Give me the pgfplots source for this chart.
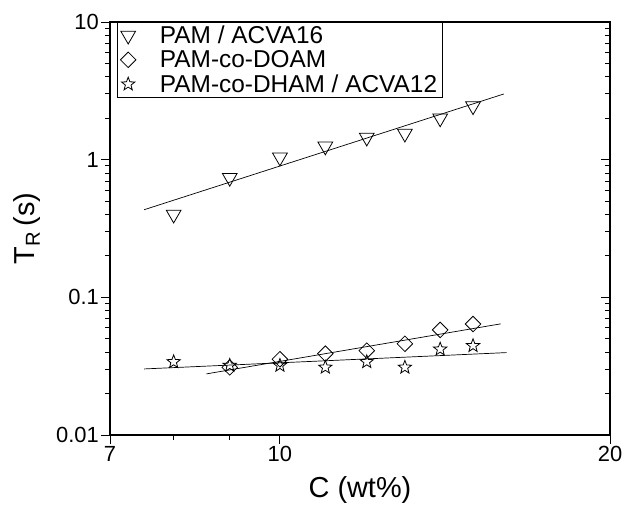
\documentclass[border=0pt]{standalone}
\usepackage{fontspec}
\setmainfont{Liberation Sans}
\usepackage{pgfplots}
\pgfplotsset{compat=1.18}
\usetikzlibrary{plotmarks}

% open five-pointed star
\pgfdeclareplotmark{ostar}{%
  \pgfpathmoveto{\pgfpointpolar{90}{\pgfplotmarksize}}%
  \pgfpathlineto{\pgfpointpolar{126}{0.42\pgfplotmarksize}}%
  \pgfpathlineto{\pgfpointpolar{162}{\pgfplotmarksize}}%
  \pgfpathlineto{\pgfpointpolar{198}{0.42\pgfplotmarksize}}%
  \pgfpathlineto{\pgfpointpolar{234}{\pgfplotmarksize}}%
  \pgfpathlineto{\pgfpointpolar{270}{0.42\pgfplotmarksize}}%
  \pgfpathlineto{\pgfpointpolar{306}{\pgfplotmarksize}}%
  \pgfpathlineto{\pgfpointpolar{342}{0.42\pgfplotmarksize}}%
  \pgfpathlineto{\pgfpointpolar{18}{\pgfplotmarksize}}%
  \pgfpathlineto{\pgfpointpolar{54}{0.42\pgfplotmarksize}}%
  \pgfpathclose\pgfusepathqstroke}

\begin{document}
\begin{tikzpicture}
\begin{axis}[
  name=ax,
  xmode=log, ymode=log, scale only axis,
  width=500bp, height=413bp,
  xmin=7, xmax=20, ymin=0.01, ymax=10,
  axis line style={line width=1.2bp},
  major tick length=9bp, minor tick length=5bp,
  every tick/.style={black, line width=1bp},
  minor ytick={0.02,0.03,0.04,0.05,0.06,0.07,0.08,0.09,
               0.2,0.3,0.4,0.5,0.6,0.7,0.8,0.9,
               2,3,4,5,6,7,8,9},
  xtick={7,10,20}, xticklabels={7,10,20}, minor xtick={8,9},
  ytick={0.01,0.1,1,10}, yticklabels={0.01,0.1,1,10},
  xtick pos=left, ytick pos=left, tick align=outside,
  tick label style={font=\fontsize{22}{26}\selectfont},
  yticklabel style={inner sep=2bp},
  xticklabel style={inner sep=2bp},
  xlabel={C (wt\%)}, ylabel={T\textsubscript{R}\,(s)},
  label style={font=\fontsize{29}{34}\selectfont},
  xlabel style={at={(axis description cs:0.5,-0.133)}, anchor=center},
  ylabel style={at={(axis description cs:-0.166,0.5)}, anchor=center},
  legend style={at={(axis description cs:0.014,1)}, anchor=north west,
    draw=black, line width=0.8bp, inner xsep=3bp, inner ysep=1.5bp,
    font=\fontsize{24.5}{28}\selectfont, row sep=1.5bp,
    /tikz/every odd column/.append style={column sep=22bp}},
  legend cell align=left,
]
\addplot[only marks, mark=triangle, mark size=8.5bp, line width=0.8bp,
  mark options={rotate=180}] coordinates {
  (8,0.40) (9,0.74) (10,1.04) (11,1.25) (12,1.45) (13,1.55) (14,2.0) (15,2.45)};
\addlegendentry{PAM / ACVA16}
\addplot[only marks, mark=square, mark size=5.5bp, line width=0.8bp,
  mark options={rotate=45}] coordinates {
  (9,0.031) (10,0.0355) (11,0.039) (12,0.041) (13,0.046) (14,0.058) (15,0.064)};
\addlegendentry{PAM-co-DOAM}
\addplot[only marks, mark=ostar, mark size=7bp, line width=0.8bp] coordinates {
  (8,0.034) (9,0.032) (10,0.032) (11,0.031) (12,0.034) (13,0.031) (14,0.042) (15,0.0445)};
\addlegendentry{PAM-co-DHAM / ACVA12\hspace{16bp}}
% fitted lines
\addplot[forget plot, black, line width=0.7bp] coordinates {(7.52,0.433) (16,3.0)};
\addplot[forget plot, black, line width=0.7bp] coordinates {(8.57,0.0278) (15.9,0.0642)};
\addplot[forget plot, black, line width=0.7bp] coordinates {(7.52,0.0302) (16.1,0.0397)};
\end{axis}
% right-hand ticks point inward
\begin{axis}[
  at={(ax.south west)}, anchor=south west,
  xmode=log, ymode=log, scale only axis,
  width=500bp, height=413bp,
  xmin=7, xmax=20, ymin=0.01, ymax=10,
  axis line style={line width=1.2bp},
  major tick length=9bp, minor tick length=5bp,
  every tick/.style={black, line width=1bp},
  minor ytick={0.02,0.03,0.04,0.05,0.06,0.07,0.08,0.09,
               0.2,0.3,0.4,0.5,0.6,0.7,0.8,0.9,
               2,3,4,5,6,7,8,9},
  xtick=\empty, ytick={0.01,0.1,1,10},
  yticklabel style={text opacity=0, font=\tiny},
  ytick pos=right, tick align=inside,
]
\end{axis}
\pgfresetboundingbox
\path ([shift={(-110bp,-74bp)}]ax.south west) rectangle ([shift={(18bp,22bp)}]ax.north east);
\end{tikzpicture}
\end{document}
